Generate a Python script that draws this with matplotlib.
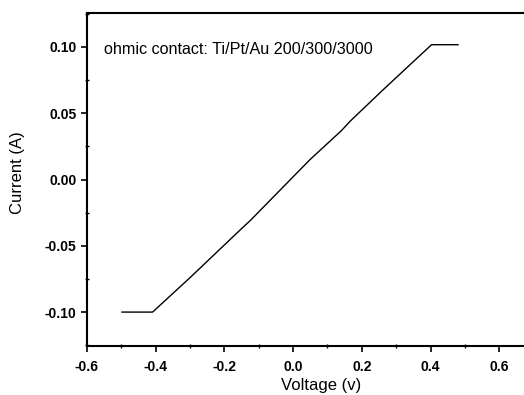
import matplotlib
matplotlib.use('Agg')
import matplotlib.pyplot as plt
from matplotlib.ticker import MultipleLocator

# I-V curve
voltage = [-0.498, -0.409, -0.300, -0.150, -0.125, 0.049, 0.141, 0.166, 0.259, 0.346, 0.403, 0.480]
current = [-0.100, -0.100, -0.074, -0.037, -0.031, 0.015, 0.037, 0.044, 0.067, 0.088, 0.1017, 0.1017]

label_text = 'ohmic contact: Ti/Pt/Au 200/300/3000'

plt.rcParams['font.family'] = ['Liberation Sans', 'DejaVu Sans']

fig = plt.figure(figsize=(5.24, 3.95), dpi=100)
ax = fig.add_axes([0.166, 0.124, 0.834, 0.843])

ax.plot(voltage, current, color='black', linewidth=1.0)

ax.set_xlim(-0.6, 0.672)
ax.set_ylim(-0.1256, 0.1256)
ax.xaxis.set_major_locator(MultipleLocator(0.2))
ax.xaxis.set_minor_locator(MultipleLocator(0.1))
ax.yaxis.set_major_locator(MultipleLocator(0.05))
ax.yaxis.set_minor_locator(MultipleLocator(0.025))
ax.xaxis.set_major_formatter(plt.FuncFormatter(lambda v, p: f'{v:.1f}'))
ax.yaxis.set_major_formatter(plt.FuncFormatter(lambda v, p: f'{v:.2f}'))

ax.spines['right'].set_visible(False)
for s in ['left', 'top', 'bottom']:
    ax.spines[s].set_linewidth(1.5)
ax.tick_params(which='major', direction='out', length=4, width=1.2, labelsize=10)
ax.tick_params(which='minor', direction='inout', length=3, width=1.0)
ax.tick_params(axis='x', pad=6)
for lbl in ax.get_xticklabels() + ax.get_yticklabels():
    lbl.set_fontweight('bold')

ax.set_xlabel('Voltage (v)', fontsize=12, labelpad=3)
ax.xaxis.set_label_coords(0.535, -0.095)
ax.set_ylabel('Current (A)', fontsize=12)
ax.yaxis.set_label_coords(-0.142, 0.52)

ax.text(0.04, 0.89, label_text, transform=ax.transAxes, fontsize=11.6, va='center')

fig.savefig('out.png', dpi=100)
